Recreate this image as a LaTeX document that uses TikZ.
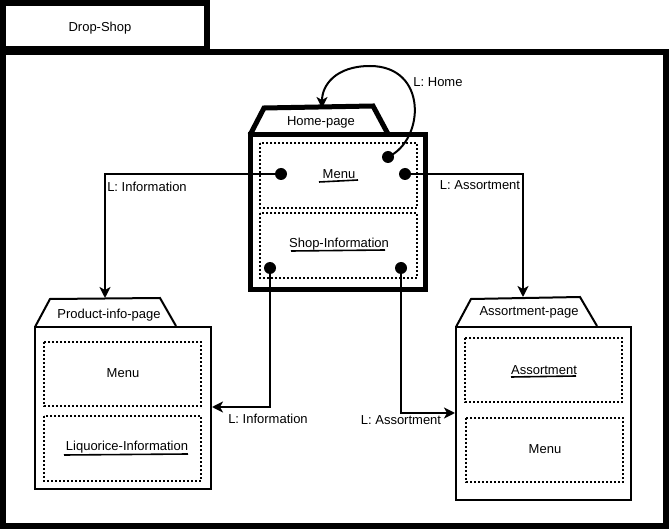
\documentclass[tikz,border=0pt]{standalone}
\usepackage{fontspec}
\setmainfont{Liberation Sans}
\usetikzlibrary{arrows.meta}
\tikzset{
  txt/.style={inner sep=0pt, font=\fontsize{13}{15}\selectfont},
  frame/.style={line width=6pt, line join=miter},
  homebox/.style={line width=5pt, line join=miter},
  pagebox/.style={line width=2pt, line join=miter},
  dotbox/.style={line width=2pt, dash pattern=on 2pt off 2pt},
  link/.style={line width=2pt, -{Stealth[length=11pt,width=11pt,inset=3pt]}},
  ul/.style={line width=1.6pt},
  dotnode/.style={circle, fill=black, inner sep=0pt, minimum size=12pt}
}
\begin{document}
\begin{tikzpicture}[x=1pt,y=-1pt]
\useasboundingbox (0,0) rectangle (670,529);
\fill[white] (0,0) rectangle (670,529);
% outer frames
\draw[frame] (3,3) rectangle (206.5,49.5);
\node[txt] (dropshop) at (100,28) {Drop-Shop};
\draw[frame] (3,52.5) rectangle (666,526);

% Home page
\draw[homebox] (250,135) -- (264,108) -- (373,106) -- (388,134);
\node[txt] (hometitle) at (321,122) {Home-page};
\draw[homebox] (250,135) rectangle (425,290);
\draw[dotbox] (260,143) rectangle (417,208);
\draw[dotbox] (260,213) rectangle (417,278);
\node[txt] (hmenu) at (339,174) {Menu};
\draw[ul] (319,182) -- (358,180);
\node[txt] (hshop) at (339,244) {Shop-Information};
\draw[ul] (291,251) -- (385,250);

% Product-info page
\draw[pagebox] (35,327) -- (50,299) -- (160,298) -- (176,326);
\node[txt] (ptitle) at (109,315) {Product-info-page};
\draw[pagebox] (35,327) rectangle (211,489);
\draw[dotbox] (44,342) rectangle (201,406);
\draw[dotbox] (44,416) rectangle (201,481);
\node[txt] (pmenu) at (123,373) {Menu};
\node[txt] (pliq) at (127,447) {Liquorice-Information};
\draw[ul] (64,455) -- (188,454);

% Assortment page
\draw[pagebox] (456,327) -- (471,299) -- (580,297) -- (597,326);
\node[txt] (atitle) at (529,312) {Assortment-page};
\draw[pagebox] (456,327) rectangle (631,500);
\draw[dotbox] (465,338) rectangle (622,402);
\draw[dotbox] (466,418) rectangle (623,482);
\node[txt] (aass) at (544,370) {Assortment};
\draw[ul] (511,377) -- (576,376);
\node[txt] (amenu) at (545,449) {Menu};

% link dots
\node[dotnode] (dinfo) at (281,174) {};
\node[dotnode] (dass) at (405,174) {};
\node[dotnode] (dhome) at (388,157) {};
\node[dotnode] (dinfo2) at (270,268) {};
\node[dotnode] (dass2) at (401,268) {};

% arrival points
\coordinate (ptop) at (105,298);
\coordinate (atop) at (523,297);
\coordinate (pside) at (212,407);
\coordinate (aside) at (455,413);
\coordinate (htop) at (322,108);

% connectors
\draw[link] (dinfo.center) -| (ptop);
\draw[link] (dass.center) -| (atop);
\draw[link] (dinfo2.center) |- (pside);
\draw[link] (dass2.center) |- (aside);
\draw[link] (dhome.center) .. controls (425,140) and (428,66) .. (370,66)
  .. controls (336,66) and (322,85) .. (htop);

% labels
\node[txt,fill=white,inner sep=1pt] (l1) at (147,187) {L: Information};
\node[txt,fill=white,inner sep=1pt] (l2) at (480,185) {L: Assortment};
\node[txt] (l3) at (268,419) {L: Information};
\node[txt] (l4) at (401,420) {L: Assortment};
\node[txt] (l5) at (438,82) {L: Home};
\end{tikzpicture}
\end{document}
